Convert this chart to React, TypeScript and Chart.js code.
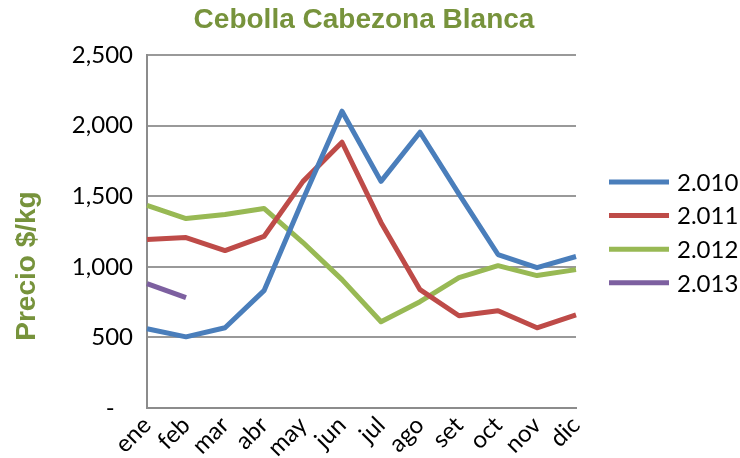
import React, { useEffect, useRef } from "react";
import { Chart, registerables } from "chart.js";

Chart.register(...registerables);

const months = ["ene", "feb", "mar", "abr", "may", "jun", "jul", "ago", "set", "oct", "nov", "dic"];
const seriesLabels = ["2.010", "2.011", "2.012", "2.013"];
const s2010 = [561, 504, 568, 831, 1477, 2102, 1605, 1953, 1515, 1087, 994, 1073];
const s2011 = [1193, 1207, 1115, 1215, 1605, 1882, 1314, 838, 653, 689, 568, 660];
const s2012 = [1435, 1342, 1371, 1413, 1172, 909, 611, 753, 923, 1008, 938, 980];
const s2013 = [881, 781];
const seriesColors = ["#4A7EBB", "#BE4B48", "#98B954", "#7D60A0"];
const yTicks = [0, 500, 1000, 1500, 2000, 2500];
const chartTitle = "Cebolla Cabezona Blanca";
const yTitle = "Precio $/kg";

const TICK_FONT = "24px Lato";
const GREEN = "#77933C";

const overlayPlugin = {
  id: "overlay",
  afterDraw(chart: any) {
    const ctx = chart.ctx;
    ctx.save();
    // Title
    ctx.fillStyle = GREEN;
    ctx.font = "bold 28px 'Liberation Sans', Arial, sans-serif";
    ctx.textAlign = "center";
    ctx.textBaseline = "middle";
    ctx.fillText(chartTitle, 364, 20);
    // Y title
    ctx.save();
    ctx.translate(27, 266);
    ctx.rotate(-Math.PI / 2);
    ctx.fillText(yTitle, 0, 0);
    ctx.restore();
    // Legend
    ctx.font = TICK_FONT;
    ctx.textAlign = "left";
    ctx.textBaseline = "middle";
    chart.data.datasets.forEach((ds: any, i: number) => {
      const y = 182 + i * 33.6;
      ctx.strokeStyle = ds.borderColor;
      ctx.lineWidth = 5;
      ctx.lineCap = "butt";
      ctx.beginPath();
      ctx.moveTo(609, y);
      ctx.lineTo(669, y);
      ctx.stroke();
      ctx.fillStyle = "#000";
      ctx.fillText(ds.label, 677, y + 1);
    });
    ctx.restore();
  },
};

export default function App() {
  const ref = useRef<HTMLCanvasElement>(null);
  useEffect(() => {
    document.body.style.margin = "0";
    const series = [s2010, s2011, s2012, s2013];
    const chart = new Chart(ref.current!, {
      type: "line",
      data: {
        labels: months,
        datasets: series.map((d, i) => ({
          label: seriesLabels[i],
          data: d,
          borderColor: seriesColors[i],
          backgroundColor: seriesColors[i],
          borderWidth: 5,
          pointRadius: 0,
          tension: 0,
          borderJoinStyle: "round" as const,
          fill: false,
        })),
      },
      options: {
        responsive: false,
        animation: false,
        layout: { padding: { top: 55, right: 164, left: 0, bottom: 0 } },
        plugins: {
          legend: { display: false },
          title: { display: false },
          tooltip: { enabled: false },
        },
        scales: {
          x: {
            offset: false,
            grid: { display: false, drawTicks: false },
            border: { display: true, color: "#8c8c8c", width: 2 },
            ticks: {
              font: { family: "Lato", size: 24 },
              color: "#000",
              minRotation: 45,
              maxRotation: 45,
              padding: 3,
              autoSkip: false,
            },
            afterFit: (s: any) => {
              s.height = 50;
            },
          },
          y: {
            min: 0,
            max: 2500,
            afterBuildTicks: (s: any) => {
              s.ticks = yTicks.map((v) => ({ value: v }));
            },
            grid: { color: "#999999", lineWidth: 2, drawTicks: false },
            border: { display: true, color: "#8c8c8c", width: 2 },
            ticks: {
              font: { family: "Lato", size: 24 },
              color: "#000",
              padding: 14,
              callback: (v: any) => (Number(v) === 0 ? "-   " : Number(v).toLocaleString("en-US")),
            },
            afterFit: (s: any) => {
              s.width = 147;
            },
          },
        },
      },
      plugins: [overlayPlugin],
    });
    return () => chart.destroy();
  }, []);
  return <canvas ref={ref} width={740} height={458} style={{ display: "block", width: 740, height: 458 }} />;
}
